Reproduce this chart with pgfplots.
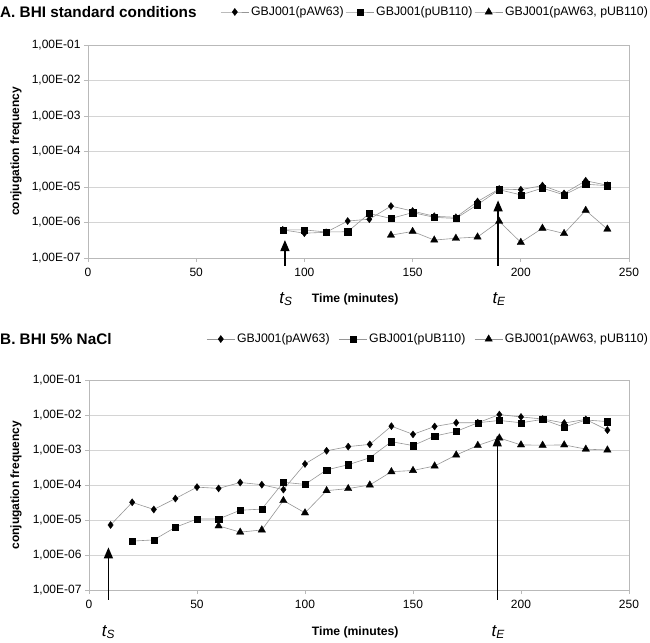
\documentclass[border=0pt]{standalone}
\usepackage{pgfplots}
\pgfplotsset{compat=1.18}
\usepackage{fontspec}
\setmainfont{Liberation Sans}
\usetikzlibrary{arrows.meta}
\definecolor{linegray}{RGB}{150,150,150}
\definecolor{gridgray}{RGB}{212,212,212}
\definecolor{axisgray}{RGB}{185,185,185}

\pgfplotstableread{
t v
90 6.2e-7
100 5.0e-7
110 5.3e-7
120 1.1e-6
130 1.24e-6
140 2.9e-6
150 2.1e-6
160 1.5e-6
170 1.4e-6
180 3.9e-6
190 8.8e-6
200 8.4e-6
210 1.1e-5
220 6.6e-6
230 1.5e-5
240 1.12e-5
}\topA
\pgfplotstableread{
t v
90 6.2e-7
100 6.2e-7
110 5.4e-7
120 5.5e-7
130 1.8e-6
140 1.3e-6
150 1.9e-6
160 1.4e-6
170 1.3e-6
180 3.2e-6
190 8.4e-6
200 6.0e-6
210 9.3e-6
220 6.0e-6
230 1.2e-5
240 1.09e-5
}\topB
\pgfplotstableread{
t v
140 4.4e-7
150 5.6e-7
160 3.2e-7
170 3.6e-7
180 3.9e-7
190 1.08e-6
200 2.76e-7
210 6.9e-7
220 4.9e-7
230 2.2e-6
240 6.5e-7
}\topC
\pgfplotstableread{
t v
10 7.2e-6
20 3.2e-5
30 2.0e-5
40 4.1e-5
50 8.7e-5
60 8.0e-5
70 1.18e-4
80 1.02e-4
90 7.4e-5
100 4.0e-4
110 9.5e-4
120 1.25e-3
130 1.45e-3
140 4.8e-3
150 2.8e-3
160 4.7e-3
170 6.0e-3
180 6.0e-3
190 1.03e-2
200 8.8e-3
210 7.7e-3
220 5.9e-3
230 7.5e-3
240 3.7e-3
}\botA
\pgfplotstableread{
t v
20 2.5e-6
30 2.7e-6
40 6.2e-6
50 1.07e-5
60 1.07e-5
70 1.9e-5
80 2.05e-5
90 1.2e-4
100 1.04e-4
110 2.7e-4
120 3.8e-4
130 6.0e-4
140 1.73e-3
150 1.34e-3
160 2.5e-3
170 3.4e-3
180 6.0e-3
190 7.0e-3
200 6.0e-3
210 7.5e-3
220 4.5e-3
230 7.2e-3
240 6.5e-3
}\botB
\pgfplotstableread{
t v
60 6.8e-6
70 4.5e-6
80 5.2e-6
90 3.6e-5
100 1.6e-5
110 6.9e-5
120 7.9e-5
130 1.0e-4
140 2.4e-4
150 2.6e-4
160 3.5e-4
170 7.2e-4
180 1.35e-3
190 2.2e-3
200 1.4e-3
210 1.37e-3
220 1.4e-3
230 1.06e-3
240 1.0e-3
}\botC

\pgfplotsset{
  every axis title shift=0pt,
  legend image code/.code={\draw[mark repeat=2,mark phase=2,#1] plot coordinates {(0pt,0pt) (14pt,0pt) (28pt,0pt)};},
  sA/.style={linegray, line width=0.6pt, mark=diamond*, mark size=3.6pt, mark options={draw=black, fill=black, line width=0.3pt}},
  sB/.style={linegray, line width=0.6pt, mark=square*, mark size=3.1pt, mark options={draw=black, fill=black, line width=0.3pt}},
  sC/.style={linegray, line width=0.6pt, mark=triangle*, mark size=4.3pt, mark options={draw=black, fill=black, line width=0.3pt}},
}
\tikzset{arr/.style={black, line width=1.4pt, -{Triangle[length=11pt,width=9pt]}}}

\begin{document}
\begin{tikzpicture}
\useasboundingbox (0pt,0pt) rectangle (650pt,-642pt);

\begin{axis}[
  scale only axis,
  at={(88pt,-258pt)}, anchor=south west,
  width=541pt, height=213pt,
  clip=false,
  ymode=log, ymin=1e-7, ymax=1e-1, xmin=0, xmax=250,
  xtick={0,50,100,150,200,250},
  xticklabels={0,50,100,150,200,250},
  ytick={1e-7,1e-6,1e-5,1e-4,1e-3,1e-2,1e-1},
  yticklabels={{1,00E-07},{1,00E-06},{1,00E-05},{1,00E-04},{1,00E-03},{1,00E-02},{1,00E-01}},
  yminorticks=false,
  ymajorgrids, major grid style={gridgray, line width=0.7pt},
  axis line style={axisgray, line width=0.7pt},
  tick style={axisgray, line width=0.7pt},
  tick align=outside, major tick length=4pt,
  tick pos=left,
  tick label style={font=\fontsize{12}{14}\selectfont, black},
  xticklabel style={yshift=-3pt},
  ylabel={conjugation frequency},
  ylabel style={font=\bfseries\fontsize{12}{14}\selectfont, at={(axis description cs:-0.133,0.5)}, anchor=center},
  xlabel={Time (minutes)},
  xlabel style={font=\bfseries\fontsize{12.2}{14}\selectfont, at={(axis description cs:0.494,-0.195)}, anchor=center},
  title={A. BHI standard conditions},
  title style={font=\bfseries\fontsize{15.3}{17}\selectfont, anchor=west, inner sep=0pt, at={(axis description cs:-0.1627,1.155)}},
  legend style={draw=none, fill=none, inner sep=0pt, font=\fontsize{12.3}{14}\selectfont,
    nodes={inner xsep=2pt, inner ysep=1pt}, at={(axis description cs:1.039,1.155)}, anchor=east},
  legend columns=3,
  legend cell align=left,
]
\addplot[sA] table[x=t,y=v] {\topA};
\addlegendentry{GBJ001(pAW63)}
\addplot[sB] table[x=t,y=v] {\topB};
\addlegendentry{GBJ001(pUB110)}
\addplot[sC] table[x=t,y=v] {\topC};
\addlegendentry{GBJ001(pAW63, pUB110)}
\draw[arr] (axis cs:91,1e-7) ++(0,-23pt) -- (axis cs:91,3.2e-7);
\draw[arr] (axis cs:189.5,1e-7) ++(0,-23pt) -- (axis cs:189.5,4.2e-6);
\node[font=\itshape\fontsize{17}{19}\selectfont, yshift=-41pt, xshift=1pt] at (axis cs:91,1e-7) {t\textsubscript{S}};
\node[font=\itshape\fontsize{17}{19}\selectfont, yshift=-41pt, xshift=1pt] at (axis cs:189.5,1e-7) {t\textsubscript{E}};
\end{axis}

\begin{axis}[
  scale only axis,
  at={(89pt,-590pt)}, anchor=south west,
  width=540pt, height=210pt,
  clip=false,
  ymode=log, ymin=1e-7, ymax=1e-1, xmin=0, xmax=250,
  xtick={0,50,100,150,200,250},
  xticklabels={0,50,100,150,200,250},
  ytick={1e-7,1e-6,1e-5,1e-4,1e-3,1e-2,1e-1},
  yticklabels={{1,00E-07},{1,00E-06},{1,00E-05},{1,00E-04},{1,00E-03},{1,00E-02},{1,00E-01}},
  yminorticks=false,
  ymajorgrids, major grid style={gridgray, line width=0.7pt},
  axis line style={axisgray, line width=0.7pt},
  tick style={axisgray, line width=0.7pt},
  tick align=outside, major tick length=4pt,
  tick pos=left,
  tick label style={font=\fontsize{12}{14}\selectfont, black},
  xticklabel style={yshift=-3pt},
  ylabel={conjugation frequency},
  ylabel style={font=\bfseries\fontsize{12}{14}\selectfont, at={(axis description cs:-0.135,0.5)}, anchor=center},
  xlabel={Time (minutes)},
  xlabel style={font=\bfseries\fontsize{12.2}{14}\selectfont, at={(axis description cs:0.493,-0.2)}, anchor=center},
  title={B. BHI 5\% NaCl},
  title style={font=\bfseries\fontsize{15.3}{17}\selectfont, anchor=west, inner sep=0pt, at={(axis description cs:-0.1648,1.195)}},
  legend style={draw=none, fill=none, inner sep=0pt, font=\fontsize{12.3}{14}\selectfont,
    nodes={inner xsep=2pt, inner ysep=1pt}, at={(axis description cs:1.039,1.195)}, anchor=east,
    /tikz/every even column/.append style={column sep=7pt}},
  legend columns=3,
  legend cell align=left,
]
\addplot[sA] table[x=t,y=v] {\botA};
\addlegendentry{GBJ001(pAW63)}
\addplot[sB] table[x=t,y=v] {\botB};
\addlegendentry{GBJ001(pUB110)}
\addplot[sC] table[x=t,y=v] {\botC};
\addlegendentry{GBJ001(pAW63, pUB110)}
\draw[arr] (axis cs:9,1e-7) ++(0,-25pt) -- (axis cs:9,1.65e-6);
\draw[arr] (axis cs:189,1e-7) ++(0,-25pt) -- (axis cs:189,2.6e-3);
\node[font=\itshape\fontsize{17}{19}\selectfont, yshift=-42pt, xshift=0pt] at (axis cs:9,1e-7) {t\textsubscript{S}};
\node[font=\itshape\fontsize{17}{19}\selectfont, yshift=-42pt, xshift=1pt] at (axis cs:189,1e-7) {t\textsubscript{E}};
\end{axis}
\end{tikzpicture}
\end{document}
